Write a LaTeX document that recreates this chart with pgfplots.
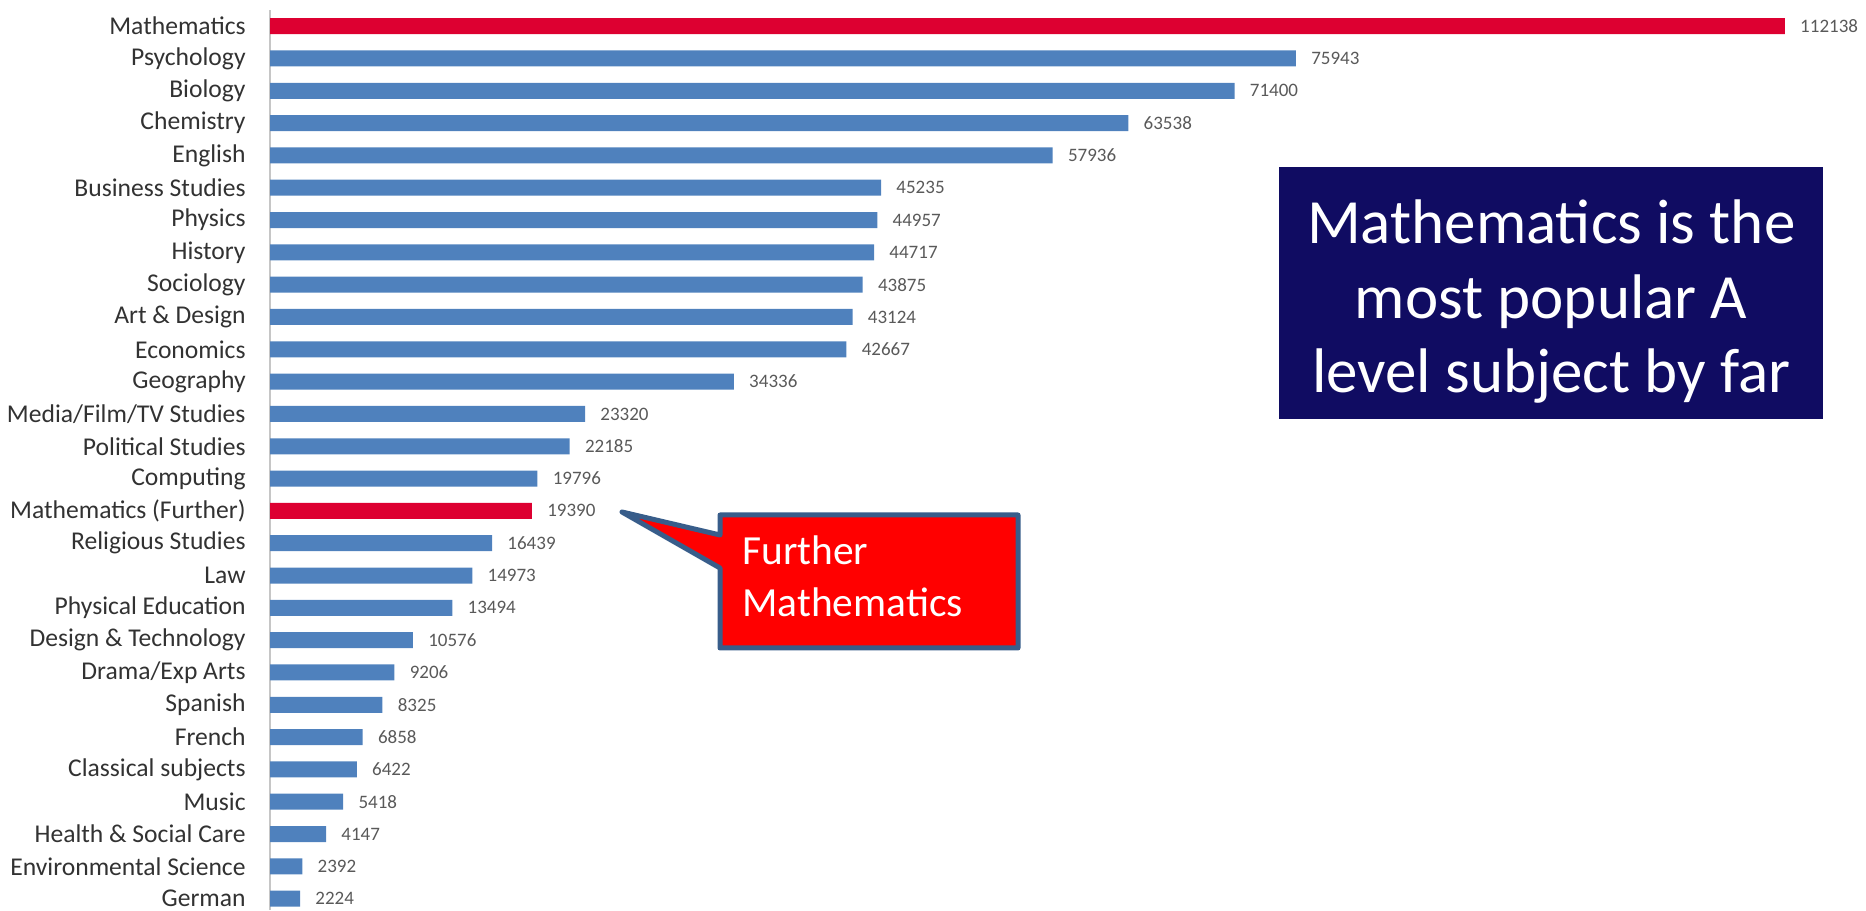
\documentclass[border=0pt]{standalone}
\usepackage{pgfplots}
\pgfplotsset{compat=1.18}
\usepackage{fontspec}
\setmainfont{Carlito}
\definecolor{barblue}{RGB}{79,129,189}
\definecolor{barred}{RGB}{221,0,49}
\definecolor{navybox}{RGB}{16,12,98}
\definecolor{calloutedge}{RGB}{56,93,138}
\definecolor{labelgray}{RGB}{50,50,50}
\definecolor{valuegray}{RGB}{89,89,89}

\begin{document}
\begin{tikzpicture}
\useasboundingbox (0,0) rectangle (933pt,455pt);
\begin{axis}[
    at={(135pt,0pt)}, anchor=south west,
    scale only axis, width=797pt, height=450pt,
    xmin=0, xmax=118000, ymin=-0.35, ymax=27.5,
    xbar, bar width=8pt,
    axis x line=none, axis y line*=left,
    y axis line style={draw=gray!45, line width=0.6pt},
    ytick={0,...,27}, major tick length=0pt,
    yticklabels={German, Environmental Science, Health \& Social Care, Music,
        Classical subjects, French, Spanish, Drama/Exp Arts, Design \& Technology,
        Physical Education, Law, Religious Studies, Mathematics (Further), Computing,
        Political Studies, Media/Film/TV Studies, Geography, Economics, Art \& Design,
        Sociology, History, Physics, Business Studies, English, Chemistry, Biology,
        Psychology, Mathematics},
    yticklabel style={font=\fontsize{12.8}{15}\selectfont, text=labelgray, inner sep=0pt, xshift=-12pt},
    nodes near coords, point meta=explicit symbolic,
    every node near coord/.append style={font=\fontsize{9.5}{11}\selectfont, text=valuegray, anchor=west, inner sep=0pt, xshift=7.5pt},
    clip=false,
]
% all subjects except the two mathematics bars
\addplot[fill=barblue, draw=none, bar shift=0pt] coordinates {
    (75943,26) [75943] (71400,25) [71400] (63538,24) [63538] (57936,23) [57936]
    (45235,22) [45235] (44957,21) [44957] (44717,20) [44717] (43875,19) [43875]
    (43124,18) [43124] (42667,17) [42667] (34336,16) [34336] (23320,15) [23320]
    (22185,14) [22185] (19796,13) [19796] (16439,11) [16439] (14973,10) [14973]
    (13494,9) [13494] (10576,8) [10576] (9206,7) [9206] (8325,6) [8325]
    (6858,5) [6858] (6422,4) [6422] (5418,3) [5418] (4147,2) [4147]
    (2392,1) [2392] (2224,0) [2224]
};
% highlighted mathematics bars
\addplot[fill=barred, draw=none, bar shift=0pt] coordinates {
    (112138,27) [112138] (19390,12) [19390]
};
\end{axis}

% callout for Further Mathematics
\draw[calloutedge, line width=2.5pt, fill=red, line join=round]
    (360pt,197.5pt) -- (509pt,197.5pt) -- (509pt,131pt) -- (360pt,131pt)
    -- (360pt,171pt) -- (311pt,199pt) -- (360pt,187.5pt) -- cycle;
\node[anchor=base west, text=white, inner sep=0pt, font=\fontsize{20.7}{26}\selectfont] at (371pt,172.5pt) {Further};
\node[anchor=base west, text=white, inner sep=0pt, font=\fontsize{20.7}{26}\selectfont] at (371pt,146.5pt) {Mathematics};

% headline box
\fill[navybox] (639.7pt,245.5pt) rectangle (911.5pt,371.7pt);
\node[anchor=base, text=white, inner sep=0pt, font=\fontsize{31.5}{38}\selectfont] at (775.6pt,333pt) {Mathematics is the};
\node[anchor=base, text=white, inner sep=0pt, font=\fontsize{31.5}{38}\selectfont] at (775.6pt,295.5pt) {most popular A};
\node[anchor=base, text=white, inner sep=0pt, font=\fontsize{31.5}{38}\selectfont] at (775.6pt,258.5pt) {level subject by far};
\end{tikzpicture}
\end{document}
